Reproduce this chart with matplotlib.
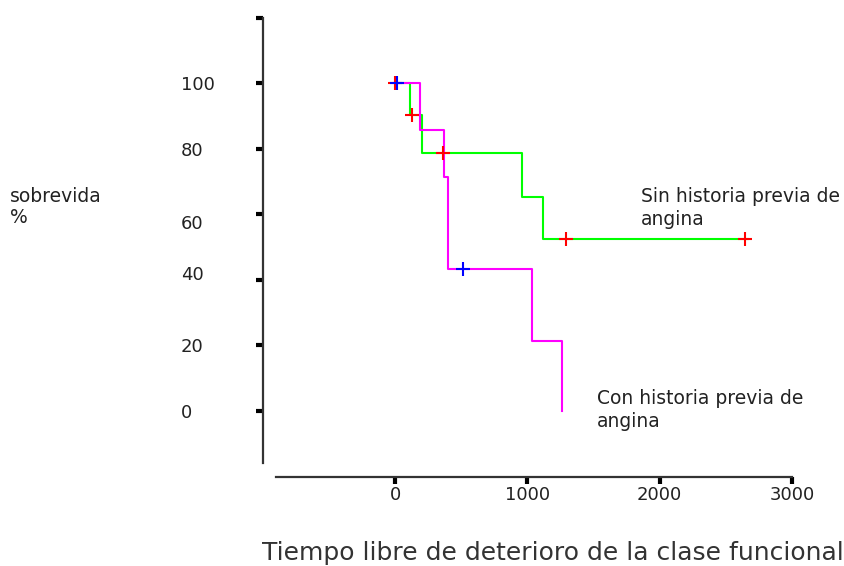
import numpy as np
import matplotlib as mpl
mpl.use('Agg')
import matplotlib.pyplot as plt
from matplotlib.transforms import ScaledTranslation

# Kaplan-Meier curves (time in days, survival in %)
aTime_sin = [0, 113, 201, 963, 1121, 2668]
aSurv_sin = [100, 90.3, 78.8, 65.4, 52.4, 52.4]
aTime_sin_cens = [0, 130, 363, 1293, 2645]
aSurv_sin_cens = [100, 90.3, 78.8, 52.4, 52.4]

aTime_con = [0, 189, 368, 400, 1033, 1262]
aSurv_con = [100, 85.7, 71.5, 43.2, 21.4, 0]
aTime_con_cens = [15, 514]
aSurv_con_cens = [100, 43.2]

aYticks = [0, 20, 40, 60, 80, 100, 120]
aYtick_labels = ['0', '20', '40', '60', '80', '100', '']
aXticks = [0, 1000, 2000, 3000]
aXtick_labels = ['0', '1000', '2000', '3000']

sFont = 'DejaVu Sans'
sText_color = '#222222'

fig = plt.figure(figsize=(8.44, 5.66), dpi=100)
ax = fig.add_axes([0.3113, 0.1465, 0.6427, 0.8337])
ax.set_xlim(-1000, 3100)
ax.set_ylim(-22, 122)

ax.step(aTime_sin, aSurv_sin, where='post', color='#00ff00', lw=1.5, zorder=2)
ax.step(aTime_con, aSurv_con, where='post', color='#ff00ff', lw=1.5, zorder=2)
ax.plot(aTime_sin_cens, aSurv_sin_cens, ls='none', marker='+', ms=10, mew=1.5,
        color='#ff0000', zorder=3)
ax.plot(aTime_con_cens, aSurv_con_cens, ls='none', marker='+', ms=10, mew=1.5,
        color='#0000ff', zorder=3)

#axes look
for s in ['top', 'right']:
    ax.spines[s].set_visible(False)
ax.spines['left'].set_bounds(-16, 120)
ax.spines['bottom'].set_position(('data', -20))
ax.spines['bottom'].set_bounds(-900, 3000)
for s in ['left', 'bottom']:
    ax.spines[s].set_linewidth(1.6)
    ax.spines[s].set_color('#333333')

ax.set_yticks(aYticks)
ax.set_yticklabels(aYtick_labels)
ax.set_xticks(aXticks)
ax.set_xticklabels(aXtick_labels)
ax.tick_params(axis='y', direction='out', length=5, width=3, pad=54,
               labelsize=13, labelcolor=sText_color)
ax.tick_params(axis='x', direction='out', length=5, width=3, pad=1.5,
               labelsize=13, labelcolor=sText_color)
for lab in ax.get_xticklabels() + ax.get_yticklabels():
    lab.set_family(sFont)

#the original labels are left aligned and some sit a bit off their tick
dOffset = {'60': -8, '40': 7}
for lab in ax.get_yticklabels():
    lab.set_horizontalalignment('left')
    dy = dOffset.get(lab.get_text(), 0)
    if dy != 0:
        lab.set_transform(lab.get_transform() + ScaledTranslation(0, dy / 100, fig.dpi_scale_trans))

ax.text(1860, 62, 'Sin historia previa de\nangina', family=sFont, fontsize=13.5,
        color=sText_color, va='center', ha='left', linespacing=1.25)
ax.text(1528, 0.3, 'Con historia previa de\nangina', family=sFont, fontsize=13.5,
        color=sText_color, va='center', ha='left', linespacing=1.25)

fig.text(10 / 844, 1 - 207 / 566, 'sobrevida\n%', family=sFont, fontsize=13.5,
         color=sText_color, va='center', ha='left', linespacing=1.15)
fig.text(262 / 844, 1 - 553 / 566, 'Tiempo libre de deterioro de la clase funcional',
         family=sFont, fontsize=18, color='#333333', va='center', ha='left')

plt.savefig('out.png', dpi=100)
